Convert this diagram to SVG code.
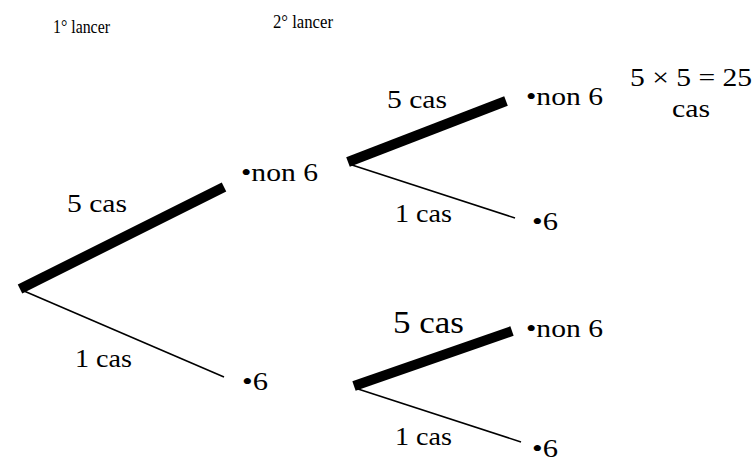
<svg xmlns="http://www.w3.org/2000/svg" width="753" height="461" viewBox="0 0 753 461">
  <defs>
    <style>
      text { font-family: "Liberation Serif", "Times New Roman", Times, serif; fill: #000; }
      .lbl { font-size: 25px; }
      .big { font-size: 31px; }
      .head { font-size: 19px; }
      .thick { stroke: #000; stroke-width: 10; stroke-linecap: butt; fill: none; }
      .thin { stroke: #000; stroke-width: 1.6; fill: none; }
    </style>
  </defs>
  <rect width="753" height="461" fill="#fff"/>

  <!-- column headings -->
  <g id="headings">
    <text class="head" x="53" y="33" textLength="57" lengthAdjust="spacingAndGlyphs">1° lancer</text>
    <text class="head" x="273" y="28" textLength="60" lengthAdjust="spacingAndGlyphs">2° lancer</text>
  </g>

  <!-- branches -->
  <g id="connectors">
    <line class="thick" x1="20" y1="289" x2="224" y2="187"/>
    <line class="thin" x1="24" y1="291" x2="224" y2="377"/>
    <line class="thick" x1="348" y1="162" x2="506" y2="101"/>
    <line class="thin" x1="352" y1="165" x2="515" y2="218"/>
    <line class="thick" x1="354" y1="386" x2="512" y2="331"/>
    <line class="thin" x1="358" y1="389" x2="521" y2="442"/>
  </g>

  <!-- branch labels -->
  <g id="branch-labels">
    <text class="lbl" x="67" y="212" textLength="60" lengthAdjust="spacingAndGlyphs">5 cas</text>
    <text class="lbl" x="75" y="367" textLength="57" lengthAdjust="spacingAndGlyphs">1 cas</text>
    <text class="lbl" x="387" y="108" textLength="60" lengthAdjust="spacingAndGlyphs">5 cas</text>
    <text class="lbl" x="395" y="222" textLength="57" lengthAdjust="spacingAndGlyphs">1 cas</text>
    <text class="big" x="393" y="333" textLength="71" lengthAdjust="spacingAndGlyphs">5 cas</text>
    <text class="lbl" x="395" y="445" textLength="57" lengthAdjust="spacingAndGlyphs">1 cas</text>
  </g>

  <!-- outcome nodes -->
  <g id="n1-non6"><text class="lbl" x="241" y="181" textLength="77" lengthAdjust="spacingAndGlyphs">•non 6</text></g>
  <g id="n1-six"><text class="lbl" x="242" y="390" textLength="26" lengthAdjust="spacingAndGlyphs">•6</text></g>
  <g id="n2-non6-non6"><text class="lbl" x="526" y="105" textLength="77" lengthAdjust="spacingAndGlyphs">•non 6</text></g>
  <g id="n2-non6-six"><text class="lbl" x="532" y="230" textLength="26" lengthAdjust="spacingAndGlyphs">•6</text></g>
  <g id="n2-six-non6"><text class="lbl" x="526" y="337" textLength="77" lengthAdjust="spacingAndGlyphs">•non 6</text></g>
  <g id="n2-six-six"><text class="lbl" x="532" y="457" textLength="26" lengthAdjust="spacingAndGlyphs">•6</text></g>

  <!-- count of outcomes -->
  <g id="total">
    <text class="lbl" x="630" y="86" textLength="122" lengthAdjust="spacingAndGlyphs">5 × 5 = 25</text>
    <text class="lbl" x="672" y="117" textLength="38" lengthAdjust="spacingAndGlyphs">cas</text>
  </g>
</svg>
